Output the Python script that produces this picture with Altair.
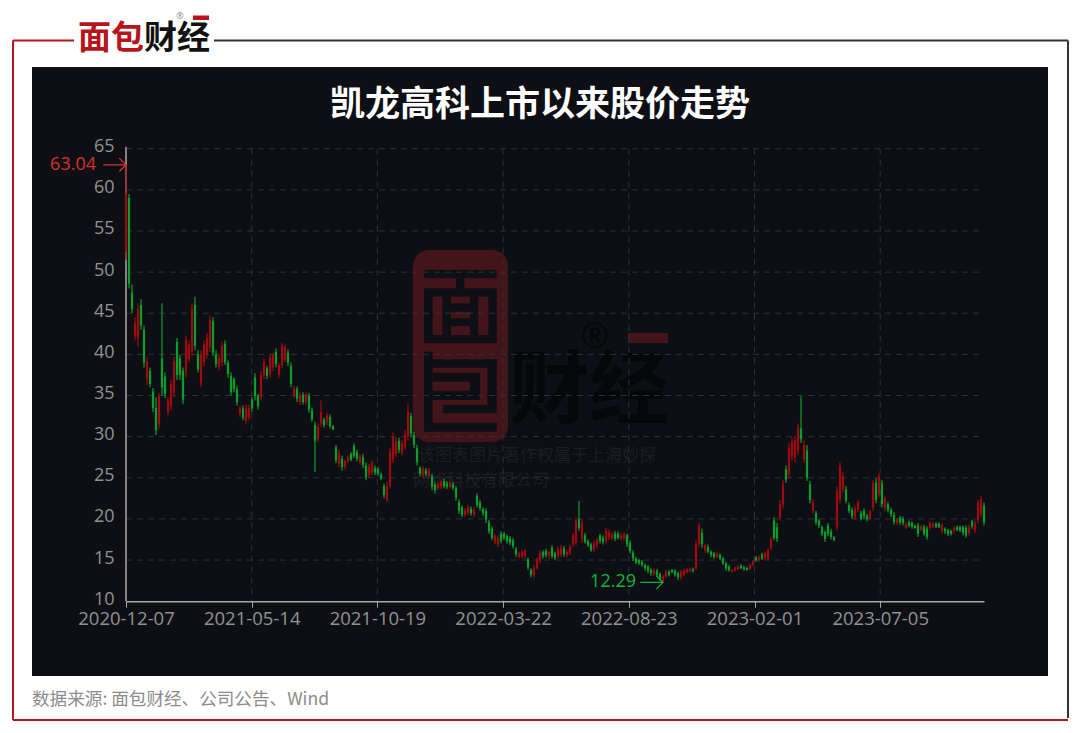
import json
import altair as alt
import pandas as pd

highs = [
 63.04,59.5,48.5,44.5,46.2,46.7,43.5,39.7,38.4,35.9,
 34.8,35.3,46.2,37.8,34.8,36.9,39.7,42,40,38.4,
 42.3,41.7,46.2,47,40.5,40.5,41.7,42.6,44.7,44.5,
 40.5,40,41.5,41.7,39.3,37.8,37.2,36.2,33.8,33.8,
 33.9,33.9,34.8,37.7,35.2,38,39.5,38.6,40,40.2,
 40.7,39,41.4,41.2,40.6,39,36.2,36.1,35.4,35.4,
 35.4,35.3,33.5,31.8,31.6,34.4,32.3,32.9,32.7,31.4,
 29,28.4,27.7,27.2,27.7,28.1,29.2,28.4,27.9,27.9,
 26.9,26.7,27.1,26.5,26.3,25.6,24.3,24.5,28.6,30.5,
 29.9,29.9,29.6,30.8,33.9,32.9,30.6,29,26.4,26.4,
 26.2,26.2,25.5,24.5,24.5,24.8,24.9,24.6,24.6,24.5,
 24,22.4,21.6,21.3,21.7,21.5,21.4,23.1,22.3,21.4,
 21.3,19.9,19.1,18.2,18,18.5,18.4,18.1,17.9,17.7,
 16.6,16,16.2,16.4,15.3,14,14.4,15.3,16.2,16.2,
 16.4,16.2,16.8,16,16.6,16.8,16.7,16.2,16.9,18.3,
 20.2,22.2,20,18.3,17.5,17.1,17.4,17.7,18.2,18,
 18.9,18.7,18.4,18.5,18.5,18.3,18.4,18.2,17.4,16.2,
 15.4,15.2,15,14.6,14.4,14,14,13.9,13.5,13.2,
 13.8,13.8,13.9,13.9,13.6,13.8,13.9,14,14.1,14.1,
 17.4,19.5,18.8,17,16.9,16.2,16,16,15.8,15.4,
 14.8,14.4,13.9,14.2,14.4,14.5,14.3,14.2,14.6,15,
 15.5,15.6,15.9,16,16.4,17.8,20.2,19.5,22.3,24.7,
 26.5,29.2,29.9,30.1,31.6,34.9,29.6,29,24.6,22.4,
 21,20,19.2,18.6,19.5,18.8,17.9,23.9,26.9,25.7,
 24,22,21.4,21.6,22.3,21,21.3,20.6,21.1,24.7,
 24.9,25.6,24.7,22.8,22.1,21.4,20.8,20.1,20.4,20.3,
 19.6,19.8,19.7,19.3,19.5,19.3,19.3,19.1,19.7,19.6,
 19.6,19.6,19.5,19,18.8,18.7,19.1,19.2,19.2,19.2,
 19.2,19.3,19.9,19.8,22.3,22.8,22,
]
lows = [
 51.5,48,45,41.7,41,43,38.4,36.3,36,33,
 30.2,31,35,34.7,32.6,33.2,34.8,36.9,36.9,34,
 37.2,39,39.8,40.5,37.8,36,38.5,39.5,40.3,39.8,
 38.4,38,38.6,38.7,37.2,35,35.4,33.8,32.4,32,
 31.5,32,33,34.4,33.3,34.4,37,37,37.2,38,
 38.4,37.1,38.3,39,38.6,36,34.7,34.2,33.9,33.9,
 33.9,32.9,31.8,25.7,29.3,31.2,31.1,31.4,31,30.8,
 26.8,26.3,25.9,26,26.8,27,27.4,27,26.6,26.2,
 24.7,25,25.3,25.3,25.2,24.7,22.5,22,23.7,26.8,
 27.5,28,27.7,28.4,29.5,29.9,28.6,26.5,25.2,25,
 25.2,24.9,23.5,23.1,23.5,23.6,23.7,23.6,23.7,23.5,
 22.2,20.6,20.2,20.2,20.5,20.4,20.2,21.4,21,20.4,
 19.5,18.2,17.4,16.9,16.6,17,17.4,17,16.8,16.4,
 15.4,15.2,15.2,15.2,13.8,12.9,12.8,13.8,14.6,15.2,
 15.3,15.2,15.2,15,15.2,15.4,15.4,15.3,15.6,16.6,
 16.8,18.6,17.1,17,16.6,16,16,16.4,17,16.9,
 17,17.4,17.4,17.3,17.5,17.4,17.3,16.6,15.8,14.9,
 14.5,14.4,14.2,13.7,13.4,13.1,13.1,13,12.5,12.29,
 12.8,13,13.4,13,12.6,12.6,13,13.4,13.5,13.5,
 13.8,16.6,16.5,15.9,15.8,15.3,15.2,15.2,15,14.4,
 13.7,13.6,13.5,13.6,13.8,13.9,13.7,13.7,13.8,14.2,
 14.8,14.8,15,15,15,16.2,17.4,17.2,19.8,21.3,
 24.4,24.9,27.1,26.9,27.8,29.2,26.8,24.6,21.9,20.7,
 19.3,18.9,17.9,17.2,17.9,17.5,17.3,18.6,21.9,23.2,
 21.9,20.7,20,19.9,20.8,19.8,20,19.7,19.8,21,
 21.9,22.6,21.4,20.9,20.8,20.2,19.3,19.3,19.3,19.2,
 18.8,19,18.8,18.8,17.8,18.5,18,17.5,18.7,18.9,
 18.9,18.9,18.2,18.2,17.9,18,18.2,18.5,18.4,18,
 17.7,18,18.8,18.3,19.5,20.2,19.2,
]
opens = [
 52.5,59,47.5,42.3,42,46,43,37,38,35.5,
 33.5,31.5,39.5,37.3,33,33.7,35.3,41.5,39.5,38,
 37.8,39.4,40.3,46,40,36.5,39,40,40.8,44,
 40,38.4,39,41.3,39,37.4,37,35.8,32.8,33.4,
 31.9,32.3,34.5,37.2,35,34.8,37.4,38.3,37.6,38.4,
 40.3,37.5,38.7,39.3,40.2,38.6,35,35.8,34.2,35.1,
 34.2,35,33.2,31.4,29.7,31.6,32.1,31.7,32.4,31.3,
 28.7,26.7,27.3,26.3,27,27.9,28.9,28.1,26.9,27.5,
 26.5,25.4,25.6,26.2,26.1,25.4,24,22.3,24,27.2,
 27.9,29.5,28,28.7,30,32.5,30.2,28.6,26.2,25.3,
 25.9,25.2,25.2,24.2,23.7,23.9,24.6,24.3,23.9,24.2,
 23.7,22.1,21.4,20.5,20.8,21.2,20.5,22.8,22,21.2,
 21,19.6,18.8,17.2,16.9,18.2,18.2,17.9,17.6,17.4,
 16.3,15.4,15.4,15.5,15.1,13.8,13.1,14,14.9,16,
 16.1,15.5,16.5,15.8,15.5,15.7,16.4,15.6,15.9,16.9,
 17.1,20,17.5,18,17.3,16.9,16.3,16.7,18,17.7,
 17.3,17.7,17.6,18.2,18.2,17.6,17.6,18,17.1,15.9,
 15.2,15,14.8,14.4,14.2,13.8,13.3,13.7,13.3,12.5,
 13,13.6,13.8,13.7,13.4,12.9,13.2,13.5,13.6,13.9,
 14,17,18.3,16.2,16.6,16,15.8,15.4,15.6,15.2,
 14.6,14.2,13.6,13.7,13.9,14.3,14.1,14,13.9,14.4,
 15.3,15,15.7,15.2,15.2,16.5,19.8,19,20.2,21.7,
 26,25.4,27.6,27.5,28.3,31,27.2,28.3,24.2,21,
 20.7,19.8,19,18.4,19.2,18.5,17.8,19,22.4,23.6,
 23.6,21.7,21.1,20.2,21.1,20.7,21,20.4,20,21.4,
 24.4,23,24.3,21.3,21.8,21.1,20.5,19.5,20.1,20,
 19,19.6,19.5,19.2,19.2,18.7,19,18.8,18.9,19.1,
 19.4,19.4,18.5,18.8,18.6,18.5,18.5,19,19,19,
 18.9,18.3,19.7,18.6,19.9,20.6,21.6,
]
closes = [
 59.5,48.6,45.5,43.8,45.5,43.5,39,39.2,36.4,33.5,
 30.8,35,36,35.2,34.4,36.4,39.2,37.5,37.5,34.5,
 41.8,41.2,45.5,41,38.2,40,41.2,42,44.2,40.2,
 38.8,39.6,41,39,37.6,35.4,35.8,34.2,33.5,32.3,
 33.5,33.5,33.4,34.9,33.7,37.5,39.1,37.4,39.6,39.9,
 38.8,38.7,41,40.9,39,36.4,35.9,34.6,35.1,34.2,
 35.1,33.3,32.1,29.5,31.2,33,31.4,32.6,31.3,30.9,
 27.1,28,26.3,27,27.5,27.2,27.7,27.3,27.6,26.6,
 25,26.4,26.8,25.6,25.5,24.9,22.9,24,28.2,30,
 29.4,28.4,29.2,30.3,33,30.4,29,26.9,25.5,26.1,
 25.5,25.9,23.9,23.5,24.3,24.5,24,23.9,24.4,23.8,
 22.6,21,20.5,21,21.4,20.7,21.1,21.7,21.3,20.7,
 19.9,18.5,17.7,18,17.7,17.3,17.7,17.3,17.1,16.7,
 15.7,15.8,16,16.1,14.1,13.2,14.1,15,15.9,15.5,
 15.6,16,15.5,15.3,16.3,16.5,15.7,16,16.6,18,
 19.8,18.9,19.5,17.2,16.8,16.2,17.1,17.5,17.3,17.2,
 18.6,18.4,18.1,17.6,17.7,18,18.1,16.9,16.1,15.2,
 14.7,14.6,14.4,14,13.7,13.4,13.8,13.2,12.8,13,
 13.6,13.2,13.5,13.2,12.9,13.6,13.7,13.9,13.9,13.7,
 17,19.2,16.9,16.8,16,15.6,15.4,15.8,15.2,14.6,
 14,13.8,13.8,14,14.2,14,13.9,13.8,14.4,14.8,
 15,15.4,15.2,15.8,16.2,17.5,17.7,17.6,21.8,24.2,
 24.8,28.7,29.4,29.6,31,29.7,29,25,22.3,22,
 19.6,19.2,18.2,17.6,18.2,17.8,17.4,23.4,26.4,25.2,
 22.2,21,20.3,21.2,22,20,20.3,20,20.9,24.3,
 22.3,25.2,21.8,22.5,21.1,20.6,19.6,19.9,19.6,19.5,
 19.4,19.2,19.1,18.9,18.2,19.1,18.2,17.8,19.5,19.4,
 19.1,19,19.3,18.5,18.2,18.2,18.9,18.7,18.6,18.3,
 18,19,19.1,19.5,22,22.4,19.6,
]

tick_labels = ["2020-12-07", "2021-05-14", "2021-10-19", "2022-03-22",
               "2022-08-23", "2023-02-01", "2023-07-05"]
tick_pos = [0, 41.9, 83.8, 125.7, 167.6, 209.5, 251.4]
y_ticks = [10, 15, 20, 25, 30, 35, 40, 45, 50, 55, 60, 65]
ext_x = [0, 179]
ext_y = [63.04, 12.29]
ext_txt = ["63.04", "12.29"]

CJK = "Noto Sans CJK SC"
LAT = "Open Sans"
PW, PH = 858, 452.5
OX, OY = 126, 148.7
BG = "#0d0f14"
RED = "#b7141c"
WM = "#43151a"
AXC = "#a8a8a8"

df = pd.DataFrame({"i": range(len(highs)), "h": highs, "l": lows, "o": opens, "c": closes})
df["d"] = ["up" if c >= o else "down" for o, c in zip(opens, closes)]

xs = alt.Scale(domain=[0, 286], nice=False, zero=False, padding=0)
ys = alt.Scale(domain=[10, 65], nice=False, zero=False, padding=0)
col = alt.Color("d:N", scale=alt.Scale(domain=["up", "down"], range=["#a00a10", "#0b9f2c"]), legend=None)


def rect(x0, y0, x1, y1, color, **kw):
    d = pd.DataFrame({"a": [0]})
    return alt.Chart(d).mark_rect(color=color, **kw).encode(
        x=alt.value(x0 - OX), x2=alt.value(x1 - OX), y=alt.value(y0 - OY), y2=alt.value(y1 - OY))


def wm_rect(zx0, zy0, zx1, zy1, color):
    # watermark drawn in the coordinates of a 3x crop from (370, 240)
    return rect(370 + zx0 / 3, 240 + zy0 / 3, 370 + zx1 / 3, 240 + zy1 / 3, color)


def label(txt, x, y, size, color, align="center", weight="normal", font=CJK):
    d = pd.DataFrame({"t": [txt]})
    return alt.Chart(d).mark_text(fontSize=size, color=color, align=align, baseline="middle",
                                  fontWeight=weight, font=font).encode(
        text="t:N", x=alt.value(x - OX), y=alt.value(y - OY))


def line(px, py, qx, qy, color, width):
    d = pd.DataFrame({"a": [0]})
    return alt.Chart(d).mark_rule(color=color, strokeWidth=width).encode(
        x=alt.value(px - OX), x2=alt.value(qx - OX), y=alt.value(py - OY), y2=alt.value(qy - OY))


decor = [
    # frame
    line(13, 40.5, 74, 40.5, RED, 2), line(13, 40.5, 13, 720, RED, 2),
    line(13, 720, 1068, 720, RED, 2), line(214, 40.5, 1068, 40.5, "#333333", 2),
    line(1068, 40.5, 1068, 718, "#333333", 2),
    # logo
    label("面包", 111, 38.5, 33, RED, weight="bold"),
    label("财经", 177, 38.5, 33, "#111111", weight="bold"),
    label("®", 180, 16, 9, "#888888", font=LAT),
    rect(193, 15.5, 209, 20, RED),
    # panel
    rect(32, 67, 1048, 676, BG),
    # watermark
    rect(413, 250, 508, 442, WM, cornerRadius=16),
    wm_rect(162, 90, 380, 115, BG),
    wm_rect(258, 115, 283, 145, BG),
    wm_rect(162, 145, 380, 310, BG),
    wm_rect(188, 170, 217, 285, WM),
    wm_rect(243, 170, 300, 190, WM),
    wm_rect(243, 215, 300, 235, WM),
    wm_rect(243, 258, 300, 285, WM),
    wm_rect(325, 170, 355, 285, WM),
    wm_rect(162, 335, 188, 575, BG),
    wm_rect(188, 358, 380, 383, BG),
    wm_rect(352, 358, 380, 520, BG),
    wm_rect(188, 398, 330, 480, BG),
    wm_rect(188, 425, 300, 452, WM),
    wm_rect(218, 495, 352, 520, BG),
    wm_rect(162, 548, 380, 575, BG),
    label("财经", 589, 393, 80, "#060709", weight="bold"),
    label("®", 595, 338, 34, "#060709", font=LAT),
    rect(628, 333, 668, 343, WM),
    label("该图表图片著作权属于上海妙探", 537, 456, 17, "#1c1d22"),
    label("网络科技有限公司", 481, 481, 17, "#1c1d22"),
    # texts
    label("凯龙高科上市以来股价走势", 540, 104.5, 35, "#ffffff", weight="bold"),
    label("数据来源: 面包财经、公司公告、Wind", 32, 700, 17.6, "#8c8c8c", align="left"),
]

hgrid = alt.Chart(pd.DataFrame({"v": y_ticks[1:]})).mark_rule(
    color="#303135", strokeWidth=1, strokeDash=[6, 5]).encode(
    y=alt.Y("v:Q", scale=ys), x=alt.value(0), x2=alt.value(PW - 2))
vgrid = alt.Chart(pd.DataFrame({"v": tick_pos[1:]})).mark_rule(
    color="#303135", strokeWidth=1, strokeDash=[6, 5]).encode(
    x=alt.X("v:Q", scale=xs), y=alt.value(0), y2=alt.value(PH))
y_line = alt.Chart(pd.DataFrame({"v": tick_pos[:1]})).mark_rule(
    color=AXC, strokeWidth=1.5).encode(
    x=alt.X("v:Q", scale=xs), y=alt.value(-2), y2=alt.value(PH))

wick = alt.Chart(df).mark_rule(strokeWidth=1.2).encode(
    x=alt.X("i:Q", scale=xs), y=alt.Y("l:Q", scale=ys), y2="h:Q", color=col)
body = alt.Chart(df).mark_bar(size=2.2).encode(
    x=alt.X("i:Q", scale=xs), y=alt.Y("o:Q", scale=ys), y2="c:Q", color=col)

lab_expr = json.dumps(tick_labels) + "[round(datum.value/41.9)]"
axes = alt.Chart(df).mark_point(opacity=0).encode(
    x=alt.X("i:Q", scale=xs, title=None, axis=alt.Axis(
        values=tick_pos, labelExpr=lab_expr, grid=False, domainColor=AXC, domainWidth=1.5,
        tickColor=AXC, tickSize=6, labelColor="#929292", labelFontSize=18.5, labelFont=LAT,
        labelPadding=2, labelOverlap=False, labelFlush=False, zindex=2)),
    y=alt.Y("c:Q", scale=ys, title=None, axis=alt.Axis(
        values=y_ticks, grid=False, domain=False, ticks=False, labelOffset=-2,
        labelColor="#929292", labelFontSize=18, labelFont=LAT, labelPadding=12, zindex=2)),
)

ext = pd.DataFrame({"x": ext_x, "y": ext_y, "t": ext_txt})
arrow_path = "M-3.4,0L0,0M-1,-1L0,0L-1,1"
ann = []
for k, c, dx in ((0, "#d9302e", -30), (1, "#0fb53c", -27)):
    d = ext.iloc[[k]]
    ann.append(alt.Chart(d).mark_point(shape=arrow_path, size=180, color=c, strokeWidth=1.2, filled=False, opacity=1).encode(
        x=alt.X("x:Q", scale=xs), y=alt.Y("y:Q", scale=ys)))
    ann.append(alt.Chart(d).mark_text(color=c, fontSize=18, font=LAT, align="right", baseline="middle", dx=dx).encode(
        x=alt.X("x:Q", scale=xs), y=alt.Y("y:Q", scale=ys), text="t:N"))

chart = alt.layer(*decor, hgrid, vgrid, y_line, wick, body, axes, *ann).resolve_scale(
    x="shared", y="shared"
).properties(
    width=PW, height=PH, background="#ffffff",
    autosize=alt.AutoSizeParams(type="none"),
    padding={"left": OX - 8, "top": OY - 8, "right": 1064 - (OX - 8) - PW, "bottom": 717 - (OY - 8) - PH},
).configure_view(stroke=None)

chart.save("out.html", embed_options={"renderer": "svg", "actions": False})
